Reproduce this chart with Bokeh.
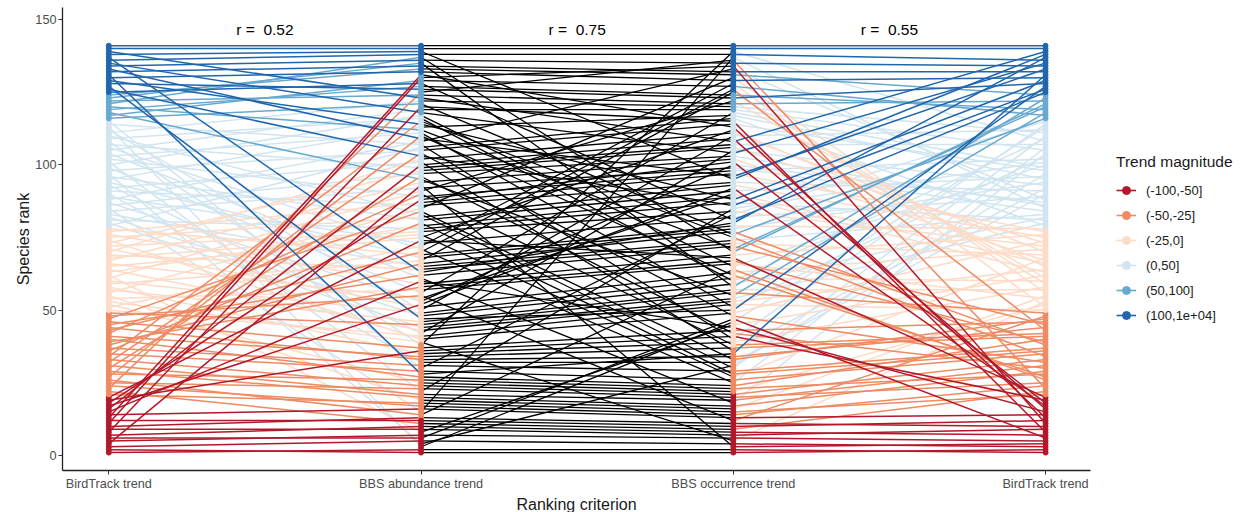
from bokeh.plotting import figure
from bokeh.models import ColumnDataSource, FixedTicker, Legend, LegendItem, Title
from bokeh.core.properties import value
from bokeh.embed import file_html
from bokeh.resources import INLINE

# ---------------- data ----------------
criteria = ["BirdTrack trend", "BBS abundance trend", "BBS occurrence trend", "BirdTrack trend"]
categories = ["(-100,-50]", "(-50,-25]", "(-25,0]", "(0,50]", "(50,100]", "(100,1e+04]"]
palette = ["#B2182B", "#EF8A62", "#FDDBC7", "#D1E5F0", "#67A9CF", "#2166AC"]

# species per trend-magnitude class, for each ranking criterion (classes in rank order)
birdtrack_counts = [20, 29, 29, 37, 9, 17]
abundance_counts = [12, 26, 33, 46, 14, 10]
occurrence_counts = [21, 16, 37, 44, 6, 17]

# species identified by their BirdTrack rank
birdtrack_rank = [
    1, 2, 3, 4, 5, 6, 7, 8, 9, 10, 11, 12, 13, 14, 15, 16, 17, 18, 19, 20,
    21, 22, 23, 24, 25, 26, 27, 28, 29, 30, 31, 32, 33, 34, 35, 36, 37, 38, 39, 40,
    41, 42, 43, 44, 45, 46, 47, 48, 49, 50, 51, 52, 53, 54, 55, 56, 57, 58, 59, 60,
    61, 62, 63, 64, 65, 66, 67, 68, 69, 70, 71, 72, 73, 74, 75, 76, 77, 78, 79, 80,
    81, 82, 83, 84, 85, 86, 87, 88, 89, 90, 91, 92, 93, 94, 95, 96, 97, 98, 99, 100,
    101, 102, 103, 104, 105, 106, 107, 108, 109, 110, 111, 112, 113, 114, 115, 116, 117, 118, 119, 120,
    121, 122, 123, 124, 125, 126, 127, 128, 129, 130, 131, 132, 133, 134, 135, 136, 137, 138, 139, 140,
    141]

# BirdTrack rank of the species holding BBS abundance rank 1, 2, 3, ...
abundance_order = [
    2, 1, 113, 97, 3, 6, 5, 62, 9, 7, 22, 12, 10, 26, 85, 14, 24, 21, 55, 29,
    31, 101, 25, 33, 52, 28, 40, 131, 35, 115, 37, 90, 44, 41, 58, 19, 46, 108, 53, 74,
    50, 93, 64, 80, 49, 57, 127, 82, 60, 112, 71, 17, 87, 66, 48, 99, 54, 39, 76, 15,
    104, 45, 137, 69, 83, 38, 59, 94, 78, 43, 106, 51, 89, 20, 65, 68, 72, 81, 63, 36,
    96, 75, 110, 47, 56, 91, 77, 18, 102, 42, 61, 84, 4, 67, 118, 30, 86, 73, 107, 16,
    92, 70, 126, 32, 98, 79, 114, 88, 133, 27, 103, 120, 95, 129, 34, 109, 100, 135, 105, 8,
    116, 111, 139, 122, 23, 128, 119, 125, 117, 11, 13, 130, 124, 132, 123, 134, 121, 136, 138, 140,
    141]

# BirdTrack rank of the species holding BBS occurrence rank 1, 2, 3, ...
occurrence_order = [
    2, 1, 4, 3, 53, 5, 9, 7, 22, 12, 10, 48, 14, 24, 21, 55, 29, 104, 31, 25,
    33, 52, 28, 40, 106, 35, 68, 36, 37, 110, 97, 90, 47, 44, 131, 92, 41, 42, 58, 114,
    19, 30, 46, 15, 62, 113, 6, 32, 74, 127, 103, 50, 64, 80, 118, 49, 57, 123, 82, 109,
    60, 27, 71, 26, 100, 54, 39, 20, 76, 121, 120, 45, 69, 83, 34, 116, 38, 94, 78, 137,
    125, 89, 115, 72, 101, 126, 81, 129, 63, 66, 96, 17, 75, 91, 138, 133, 77, 102, 84, 87,
    18, 67, 86, 135, 93, 73, 107, 139, 16, 112, 70, 65, 13, 98, 8, 79, 95, 99, 105, 111,
    122, 61, 128, 119, 59, 43, 117, 51, 130, 56, 124, 132, 88, 11, 134, 23, 85, 136, 108, 140,
    141]

r_labels = ["r =\u00a0 0.52", "r =\u00a0 0.75", "r =\u00a0 0.55"]

# ---------------- checks ----------------
n = len(birdtrack_rank)
for name, arr in [("abundance", abundance_order), ("occurrence", occurrence_order)]:
    if sorted(arr) != list(range(1, n + 1)):
        miss = sorted(set(range(1, n + 1)) - set(arr))
        dup = sorted({a for a in arr if arr.count(a) > 1})
        raise ValueError(f"{name}: len={len(arr)} missing={miss} dup={dup}")

ab_rank = {sp: i + 1 for i, sp in enumerate(abundance_order)}
oc_rank = {sp: i + 1 for i, sp in enumerate(occurrence_order)}


def band(rank, counts):
    c = 0
    for k, cnt in enumerate(counts):
        c += cnt
        if rank <= c:
            return k
    return len(counts) - 1


xpos = [i + 1 for i in range(len(criteria))]

# ---------------- figure ----------------
FONT = "Liberation Sans"
X0, X1 = 0.8517, 4.144          # visible panel extent (axis line bounds)
p = figure(width=1243, height=512, x_range=(X0, 4.634), y_range=(-5.17, 154.14),
           output_backend="svg", toolbar_location=None,
           min_border_left=62, min_border_right=0, min_border_top=7, min_border_bottom=40)
p.outline_line_color = None
p.xgrid.visible = False
p.ygrid.visible = False
p.background_fill_color = "white"

# colored segments (BirdTrack class), drawn light classes first
draw_order = [3, 2, 4, 1, 5, 0]
seg = dict(x0=[], y0=[], x1=[], y1=[], color=[])
for cls in draw_order:
    for sp in birdtrack_rank:
        if band(sp, birdtrack_counts) != cls:
            continue
        col = palette[cls]
        seg["x0"].append(xpos[0]); seg["y0"].append(sp)
        seg["x1"].append(xpos[1]); seg["y1"].append(ab_rank[sp]); seg["color"].append(col)
        seg["x0"].append(xpos[2]); seg["y0"].append(oc_rank[sp])
        seg["x1"].append(xpos[3]); seg["y1"].append(sp); seg["color"].append(col)
p.segment("x0", "y0", "x1", "y1", color="color", line_width=1.5, source=ColumnDataSource(seg))

mid = dict(x0=[xpos[1]] * n, y0=[ab_rank[sp] for sp in birdtrack_rank],
           x1=[xpos[2]] * n, y1=[oc_rank[sp] for sp in birdtrack_rank])
p.segment("x0", "y0", "x1", "y1", color="black", line_width=1.3, source=ColumnDataSource(mid))

# points on each axis, coloured by that criterion's class
pts = dict(x=[], y=[], color=[])
for sp in birdtrack_rank:
    for xi, r, cnts in [(xpos[0], sp, birdtrack_counts), (xpos[1], ab_rank[sp], abundance_counts),
                        (xpos[2], oc_rank[sp], occurrence_counts), (xpos[3], sp, birdtrack_counts)]:
        pts["x"].append(xi); pts["y"].append(r); pts["color"].append(palette[band(r, cnts)])
p.scatter("x", "y", color="color", size=5, source=ColumnDataSource(pts))

# correlation labels
p.text(x=[1.5, 2.5, 3.5], y=[146.6] * 3, text=r_labels, text_align="center",
       text_baseline="middle", text_font=value(FONT), text_font_size="15.5px", text_color="black")

# axes
p.xaxis.ticker = FixedTicker(ticks=xpos)
p.xaxis.major_label_overrides = {x: c for x, c in zip(xpos, criteria)}
p.xaxis.bounds = (X0, X1)
p.yaxis.ticker = FixedTicker(ticks=[0, 50, 100, 150])
p.yaxis.axis_label = "Species rank"
for ax in (p.xaxis, p.yaxis):
    ax.axis_line_color = "#222222"
    ax.axis_line_width = 1.3
    ax.major_tick_line_color = "#333333"
    ax.major_tick_out = 4
    ax.major_tick_in = 0
    ax.minor_tick_line_color = None
    ax.major_label_text_font = FONT
    ax.major_label_text_font_size = "12.7px"
    ax.major_label_text_color = "#4D4D4D"
    ax.axis_label_text_font = FONT
    ax.axis_label_text_font_size = "16px"
    ax.axis_label_text_font_style = "normal"
    ax.axis_label_text_color = "#1A1A1A"
    ax.major_label_standoff = 2
    ax.axis_label_standoff = 0

# x-axis title, centred under the visible panel
xtitle = Title(text="Ranking criterion", align="left", offset=454, standoff=0,
               text_font=FONT, text_font_size="16px", text_font_style="normal",
               text_color="#1A1A1A")
p.add_layout(xtitle, "below")

# legend (key renderers sit outside the visible range)
items = []
for cat, col in zip(categories, palette):
    lr = p.line(x=[0.0, 0.1], y=[-100, -100], color=col, line_width=1.6)
    sr = p.scatter(x=[0.0], y=[-100], color=col, size=5)
    items.append(LegendItem(label=cat, renderers=[lr, sr]))
legend = Legend(items=items, location=(1054, 145), title="Trend magnitude",
                title_text_font=FONT, title_text_font_size="15.5px", title_text_color="#1A1A1A",
                title_text_font_style="normal",
                title_standoff=9, label_text_font=FONT, label_text_font_size="13px",
                label_text_color="#1A1A1A", glyph_width=20, glyph_height=20, label_height=20,
                label_standoff=10, spacing=5, padding=0, margin=0,
                border_line_color=None, background_fill_alpha=0)
p.add_layout(legend, "center")

open("out.html", "w").write(file_html(p, INLINE))
